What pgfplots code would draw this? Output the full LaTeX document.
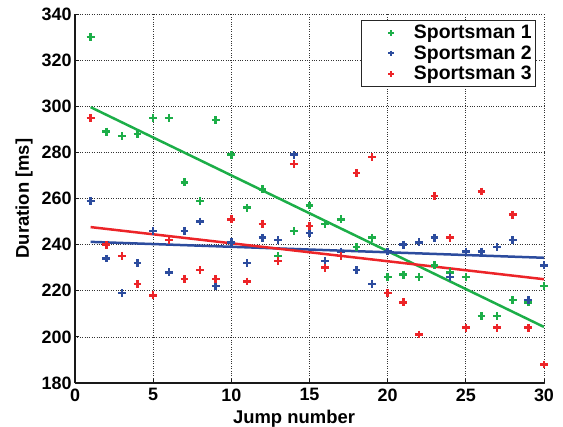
\documentclass[border=0pt]{standalone}
\usepackage{fontspec}
\setmainfont{Liberation Sans}
\usepackage{pgfplots}
\pgfplotsset{compat=1.18}
\definecolor{cg}{RGB}{28,174,72}
\definecolor{cb}{RGB}{44,76,158}
\definecolor{cr}{RGB}{236,36,40}
\pgfplotsset{
  smark/.style={only marks, mark=+, mark size=3.9bp, mark options={line width=2.5bp},
    legend image code/.code={\path[draw=none,fill=none] (0bp,-4bp) rectangle (49bp,4bp); \draw[##1, mark size=2.8bp, mark options={line width=2bp}] plot coordinates {(28bp,0bp)};}},
}
\begin{document}
\begin{tikzpicture}
\begin{axis}[
  scale only axis, width=469bp, height=369bp,
  xmin=0, xmax=30, ymin=180, ymax=340,
  xtick={0,5,...,30}, ytick={180,200,...,340},
  axis lines=left, axis line style={-, line width=1.8bp, black!90},
  tick align=inside, major tick length=4bp, tick style={black!90, line width=0.8bp},
  grid=major, grid style={dotted, black!80, line width=0.7bp},
  /pgf/number format/assume math mode=true,
  ticklabel style={font=\fontsize{18}{20}\selectfont\bfseries},
  xticklabel style={yshift=-2bp},
  xlabel={Jump number}, ylabel={Duration [ms]},
  label style={font=\fontsize{18.5}{20}\selectfont\bfseries, inner sep=0pt},
  xlabel style={at={(axis description cs:0.467,-0.073)}, anchor=north},
  ylabel style={at={(axis description cs:-0.0896,0.5)}, anchor=south},
  legend style={at={(axis description cs:0.983,0.984)}, anchor=north east,
    draw=black!85, line width=0.8bp, inner xsep=2bp, inner ysep=3bp,
    font=\fontsize{19.5}{21}\selectfont\bfseries, nodes={inner sep=2bp}, row sep=1.5bp},
  legend cell align=left,
]
\addplot[smark, color=cg] coordinates {
(1,330)(2,289)(3,287)(4,288)(5,295)(6,295)(7,267)(8,259)(9,294)(10,279)
(11,256)(12,264)(13,235)(14,246)(15,257)(16,249)(17,251)(18,239)(19,243)(20,226)
(21,227)(22,226)(23,231)(24,228)(25,226)(26,209)(27,209)(28,216)(29,215)(30,222)};
\addlegendentry{Sportsman 1}
\addplot[smark, color=cb] coordinates {
(1,259)(2,234)(3,219)(4,232)(5,246)(6,228)(7,246)(8,250)(9,222)(10,241)
(11,232)(12,243)(13,242)(14,279)(15,245)(16,233)(17,237)(18,229)(19,223)(20,237)
(21,240)(22,241)(23,243)(24,226)(25,237)(26,237)(27,239)(28,242)(29,216)(30,231)};
\addlegendentry{Sportsman 2}
\addplot[smark, color=cr] coordinates {
(1,295)(2,240)(3,235)(4,223)(5,218)(6,242)(7,225)(8,229)(9,225)(10,251)
(11,224)(12,249)(13,233)(14,275)(15,248)(16,230)(17,235)(18,271)(19,278)(20,219)
(21,215)(22,201)(23,261)(24,243)(25,204)(26,263)(27,204)(28,253)(29,204)(30,188)};
\addlegendentry{Sportsman 3}
\addplot[forget plot, color=cg, line width=2.5bp] coordinates {(1,299.6)(30,204.3)};
\addplot[forget plot, color=cb, line width=2.5bp] coordinates {(1,241.2)(30,234.3)};
\addplot[forget plot, color=cr, line width=2.5bp] coordinates {(1,247.6)(30,225.0)};
\end{axis}
\pgfresetboundingbox
\path[use as bounding box] (-75bp,-44bp) rectangle (488bp,383bp);
\end{tikzpicture}
\end{document}
